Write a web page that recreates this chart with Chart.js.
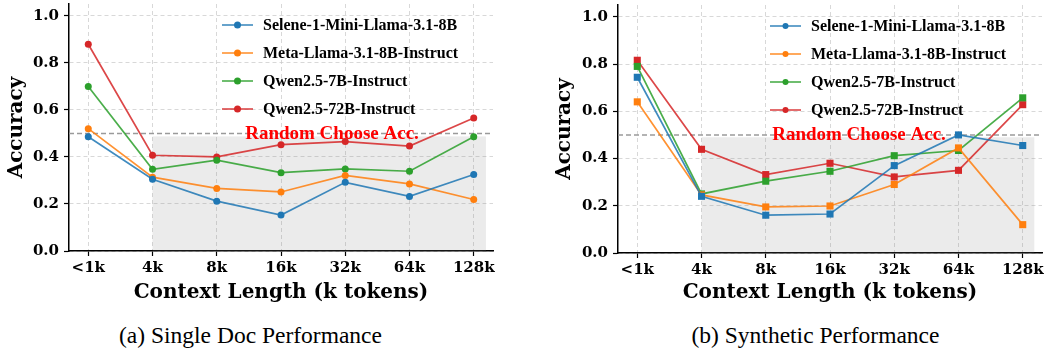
<!DOCTYPE html>
<html>
<head>
<meta charset="utf-8">
<script src="https://cdn.jsdelivr.net/npm/chart.js@4.4.1/dist/chart.umd.min.js"></script>
<style>
body { margin: 0; background: #fff; }
#wrap { position: relative; width: 1050px; height: 351px; overflow: hidden; }
.box { position: absolute; top: 0; width: 525px; height: 305px; }
.cap { position: absolute; top: 321px; width: 525px; text-align: center;
       font: 23.5px "Liberation Serif", "Times New Roman", serif; line-height: 28px; color: #000; }
</style>
</head>
<body>
<div id="wrap">
  <div class="box" style="left:0"><canvas id="single" width="525" height="305"></canvas></div>
  <div class="box" style="left:525px"><canvas id="synth" width="525" height="305"></canvas></div>
  <div class="cap" style="left:-12px">(a) Single Doc Performance</div>
  <div class="cap" style="left:553px">(b) Synthetic Performance</div>
</div>
<script>
// categories and series
const contextLabels = ['<1k', '4k', '8k', '16k', '32k', '64k', '128k'];
const modelNames = ['Selene-1-Mini-Llama-3.1-8B', 'Meta-Llama-3.1-8B-Instruct', 'Qwen2.5-7B-Instruct', 'Qwen2.5-72B-Instruct'];
const modelColors = ['#1f77b4', '#ff7f0e', '#2ca02c', '#d62728'];
const yTicks = [0, 0.2, 0.4, 0.6, 0.8, 1.0];
const randomAcc = 0.5;

const singleSelene = [0.486, 0.305, 0.212, 0.153, 0.292, 0.232, 0.325];
const singleMeta   = [0.520, 0.314, 0.266, 0.251, 0.321, 0.285, 0.219];
const singleQwen7  = [0.699, 0.347, 0.386, 0.333, 0.349, 0.339, 0.486];
const singleQwen72 = [0.879, 0.407, 0.400, 0.452, 0.465, 0.446, 0.565];

const synthSelene = [0.744, 0.240, 0.160, 0.165, 0.370, 0.500, 0.455];
const synthMeta   = [0.640, 0.246, 0.195, 0.199, 0.290, 0.445, 0.120];
const synthQwen7  = [0.790, 0.250, 0.304, 0.346, 0.412, 0.434, 0.657];
const synthQwen72 = [0.816, 0.439, 0.332, 0.380, 0.322, 0.350, 0.628];

const tickFont = { family: '"DejaVu Serif", serif', weight: 'bold', size: 15 };
const titleFont = { family: '"DejaVu Serif", serif', weight: 'bold', size: 20 };

function withAlpha(hex, a) {
    const n = parseInt(hex.slice(1), 16);
    return 'rgba(' + (n >> 16) + ',' + ((n >> 8) & 255) + ',' + (n & 255) + ',' + a + ')';
}

// shaded area, random-guess line, label and the inset legend
function decorPlugin(o) {
    return {
        id: 'decor',
        beforeDatasetsDraw(chart) {
            const ctx = chart.ctx, x = chart.scales.x, y = chart.scales.y, a = chart.chartArea;
            ctx.save();
            ctx.fillStyle = 'rgba(128,128,128,0.16)';
            const x0 = x.getPixelForValue(1), x1 = x.getPixelForValue(o.shadeEnd);
            const y0 = y.getPixelForValue(0), y1 = y.getPixelForValue(o.shadeTop);
            ctx.fillRect(x0, y1, x1 - x0, y0 - y1);
            ctx.strokeStyle = '#9a9a9a';
            ctx.lineWidth = 1.5;
            ctx.setLineDash([5, 3]);
            const yr = y.getPixelForValue(randomAcc);
            ctx.beginPath();
            ctx.moveTo(a.left, yr);
            ctx.lineTo(a.right, yr);
            ctx.stroke();
            ctx.restore();
        },
        afterDatasetsDraw(chart) {
            const ctx = chart.ctx;
            ctx.save();
            ctx.font = 'bold 19px "Liberation Serif", serif';
            ctx.fillStyle = '#ff0000';
            ctx.textAlign = 'center';
            ctx.textBaseline = 'middle';
            ctx.fillText('Random Choose Acc.', o.textX, o.textY);

            ctx.font = 'bold 16px "Liberation Serif", serif';
            ctx.textAlign = 'left';
            chart.data.datasets.forEach((ds, i) => {
                const ly = o.legY + i * 28;
                ctx.strokeStyle = ds.borderColor;
                ctx.lineWidth = 1.6;
                ctx.beginPath();
                ctx.moveTo(o.legX, ly);
                ctx.lineTo(o.legX + 31, ly);
                ctx.stroke();
                ctx.fillStyle = ds.pointBackgroundColor;
                ctx.beginPath();
                ctx.arc(o.legX + 15.5, ly, o.legR, 0, Math.PI * 2);
                ctx.fill();
                ctx.fillStyle = '#000';
                ctx.fillText(ds.label, o.legX + 41, ly + 1);
            });
            ctx.restore();
        }
    };
}

function buildChart(id, series, pointStyle, radius, o) {
    const datasets = series.map((vals, i) => ({
        label: modelNames[i],
        data: vals.map((v, k) => ({ x: k, y: v })),
        borderColor: withAlpha(modelColors[i], 0.85),
        backgroundColor: modelColors[i],
        pointBackgroundColor: modelColors[i],
        pointBorderColor: modelColors[i],
        pointBorderWidth: 0,
        pointStyle: pointStyle,
        pointRadius: radius,
        borderWidth: 1.7,
        tension: 0
    }));
    const gridOpts = {
        color: 'rgba(200,200,200,0.7)',
        lineWidth: 1,
        tickColor: '#000',
        tickBorderDash: [],
        tickWidth: 1.2,
        tickLength: 5
    };
    return new Chart(document.getElementById(id), {
        type: 'line',
        data: { datasets: datasets },
        options: {
            responsive: false,
            animation: false,
            layout: { padding: { top: o.padTop, left: o.padLeft, right: o.padRight, bottom: 0 } },
            plugins: { legend: { display: false }, tooltip: { enabled: false } },
            scales: {
                x: {
                    type: 'linear',
                    min: -0.3,
                    max: 6.3,
                    afterBuildTicks: s => { s.ticks = contextLabels.map((_, k) => ({ value: k })); },
                    afterFit: s => { s.height = o.xHeight; s.paddingLeft = 0; s.paddingRight = 0; },
                    ticks: {
                        callback: v => contextLabels[v],
                        font: tickFont,
                        color: '#000',
                        maxRotation: 0,
                        autoSkip: false,
                        padding: 3
                    },
                    grid: gridOpts,
                    border: { display: true, color: '#000', width: 1.5, dash: [4, 3] },
                    title: { display: true, text: 'Context Length (k tokens)', font: titleFont, color: '#000', padding: 0 }
                },
                y: {
                    min: 0,
                    max: 1.05,
                    afterBuildTicks: s => { s.ticks = yTicks.map(v => ({ value: v })); },
                    afterFit: s => { s.width = o.yWidth; s.paddingTop = 0; s.paddingBottom = 0; },
                    ticks: {
                        callback: v => v.toFixed(1),
                        font: tickFont,
                        color: '#000',
                        padding: 5
                    },
                    grid: gridOpts,
                    border: { display: true, color: '#000', width: 1.5, dash: [4, 3] },
                    title: { display: true, text: 'Accuracy', font: titleFont, color: '#000', padding: 0 }
                }
            }
        },
        plugins: [decorPlugin(o)]
    });
}

buildChart('single', [singleSelene, singleMeta, singleQwen7, singleQwen72], 'circle', 3.5, {
    padTop: 3, padLeft: 5, padRight: 32, yWidth: 64, xHeight: 54,
    shadeEnd: 6.19, shadeTop: 0.487,
    textX: 332, textY: 134,
    legX: 222, legY: 25, legR: 3.5
});

buildChart('synth', [synthSelene, synthMeta, synthQwen7, synthQwen72], 'rect', 5, {
    padTop: 5, padLeft: 28, padRight: 8, yWidth: 65, xHeight: 52,
    shadeEnd: 6.18, shadeTop: 0.49,
    textX: 334, textY: 135,
    legX: 245, legY: 26, legR: 3
});
</script>
</body>
</html>
